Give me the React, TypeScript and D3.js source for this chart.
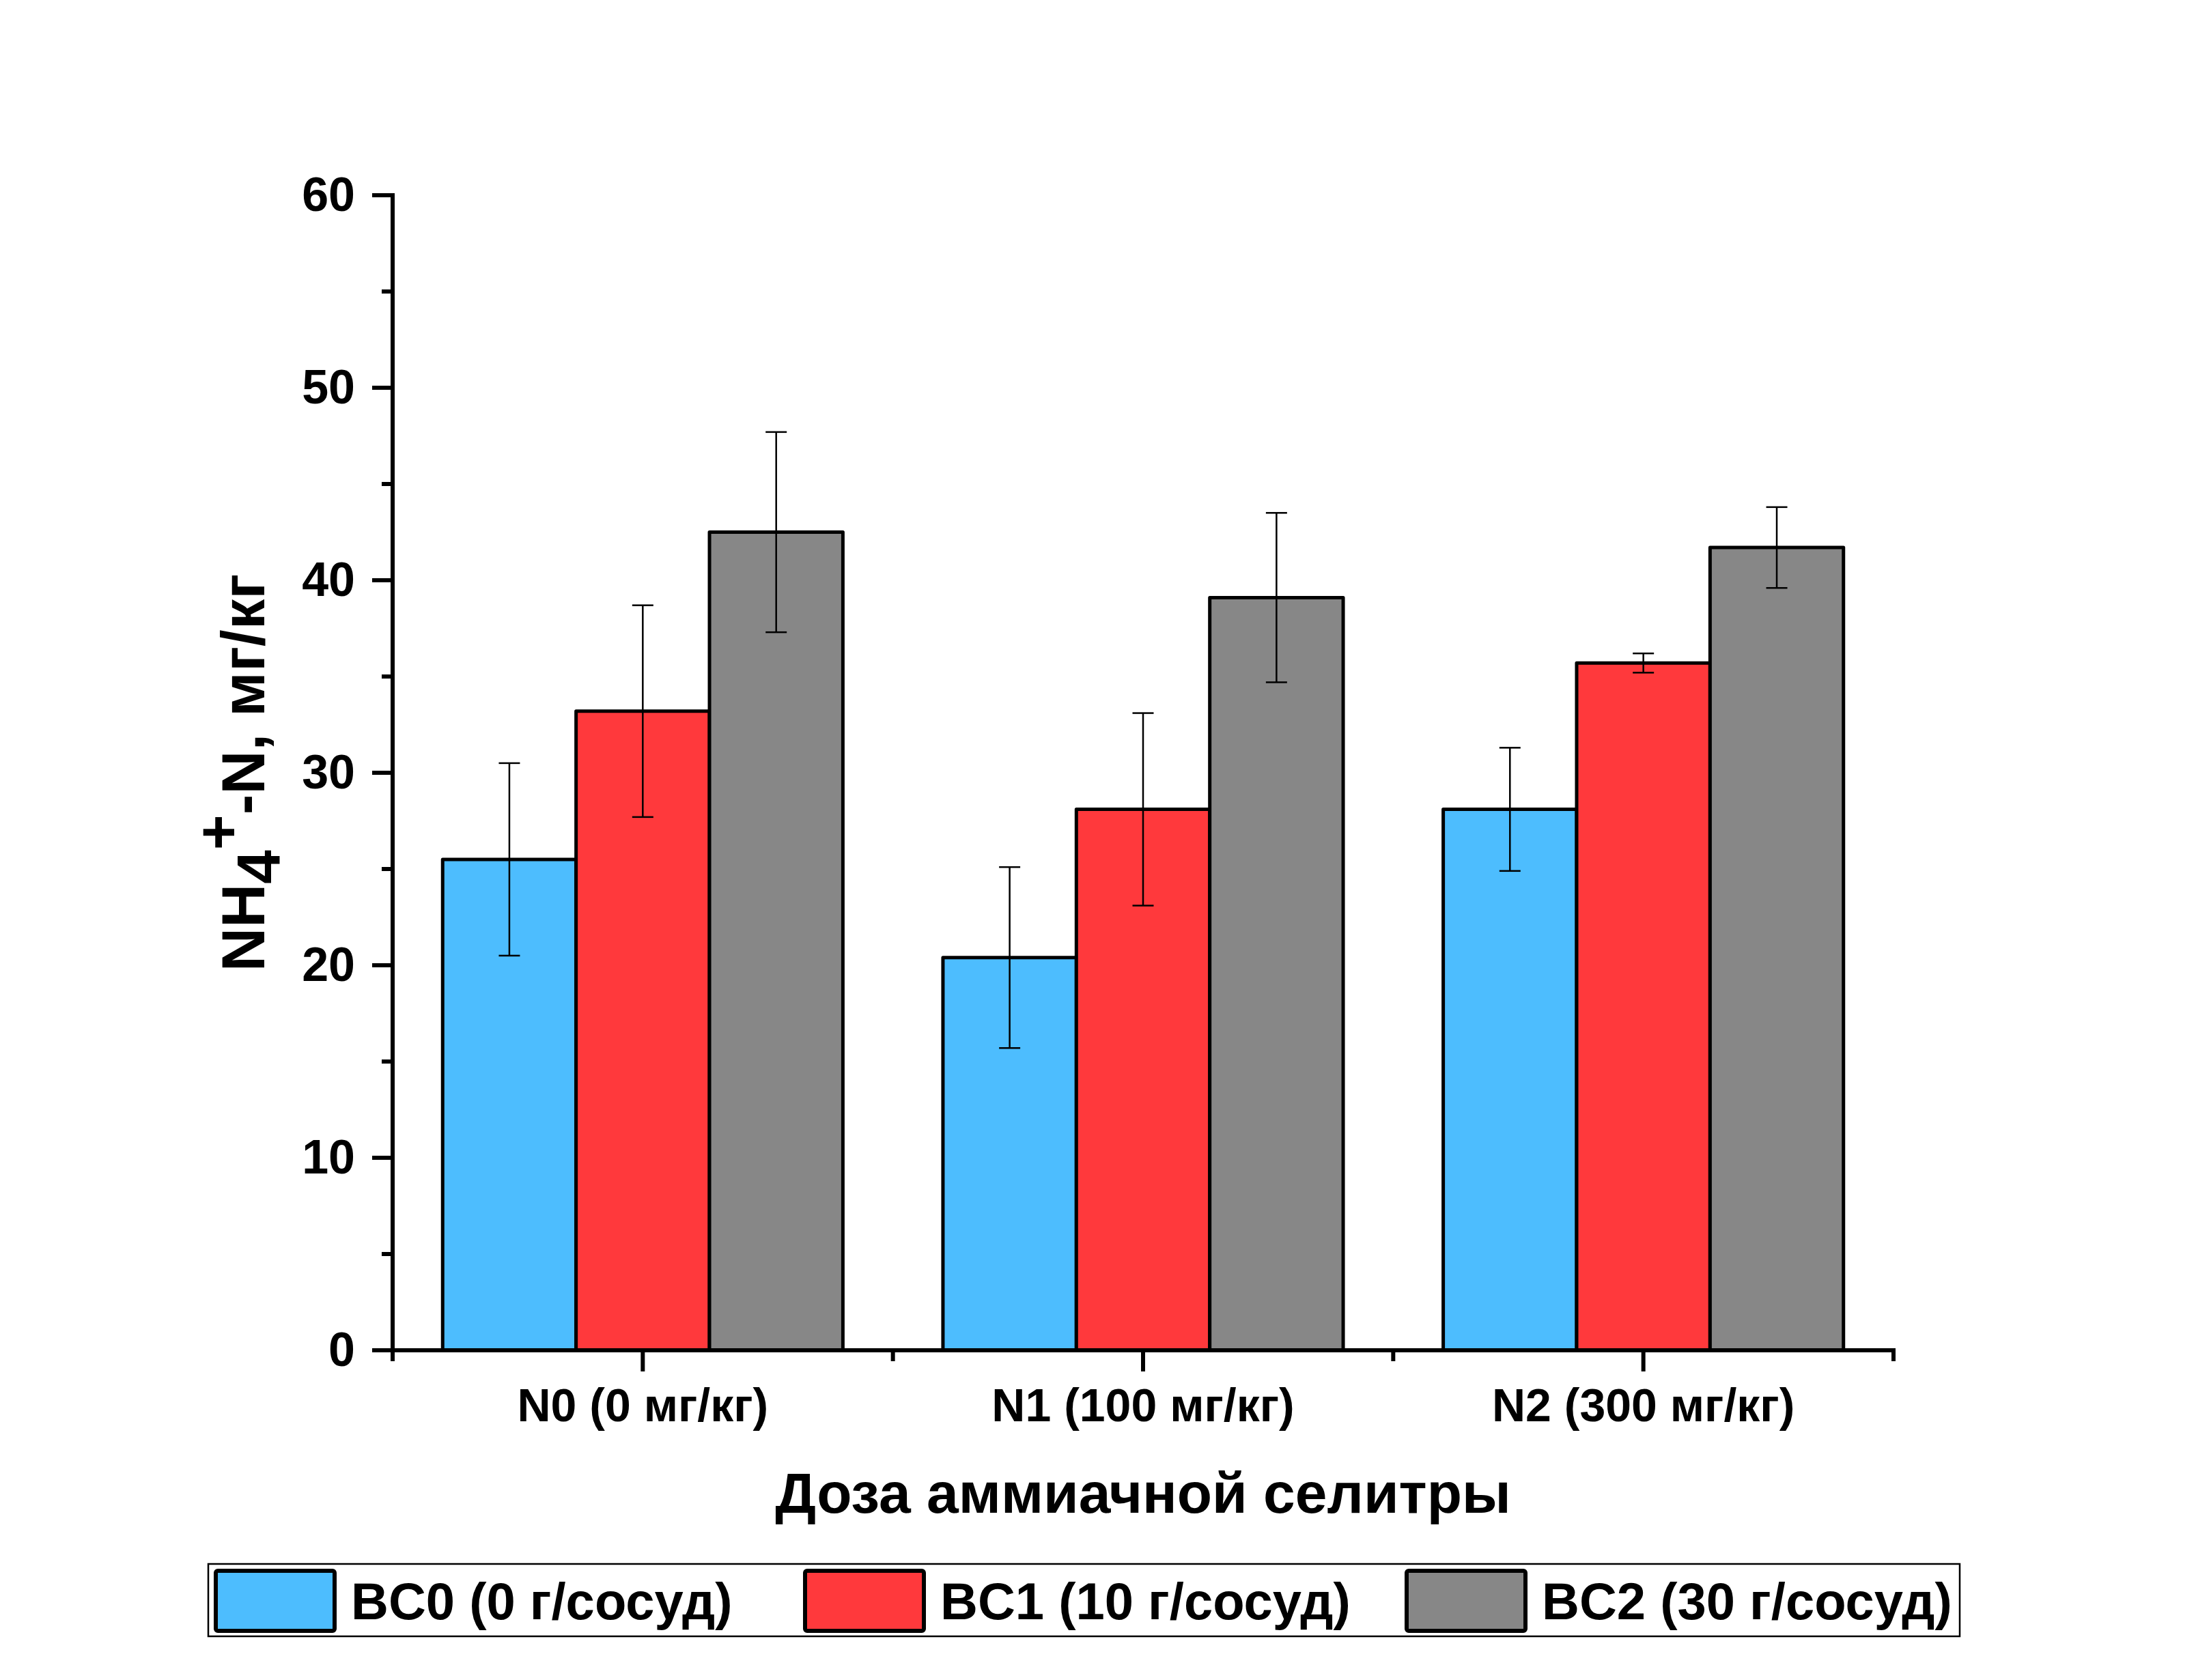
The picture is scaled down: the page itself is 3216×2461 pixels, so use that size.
import React from 'react';
import * as d3 from 'd3';

const categories = ['N0 (0 мг/кг)', 'N1 (100 мг/кг)', 'N2 (300 мг/кг)'];
const seriesNames = ['BC0 (0 г/сосуд)', 'BC1 (10 г/сосуд)', 'BC2 (30 г/сосуд)'];
const seriesColors = ['#4DBDFE', '#FF393C', '#878787'];

const bc0 = [25.5, 20.4, 28.1];
const bc0Err = [5.0, 4.7, 3.2];
const bc1 = [33.2, 28.1, 35.7];
const bc1Err = [5.5, 5.0, 0.5];
const bc2 = [42.5, 39.1, 41.7];
const bc2Err = [5.2, 4.4, 2.1];

const yTicks = [0, 10, 20, 30, 40, 50, 60];

const xTitle = 'Доза аммиачной селитры';

const W = 3216;
const H = 2461;
const plot = { left: 575, right: 2773, top: 286, bottom: 1978 };
const font = '"Liberation Sans", Arial, sans-serif';

// legend layout (item left edges)
const legendItemX = [316, 1179, 2060];

const App: React.FC = () => {
  const series = [
    { name: seriesNames[0], color: seriesColors[0], values: bc0, err: bc0Err },
    { name: seriesNames[1], color: seriesColors[1], values: bc1, err: bc1Err },
    { name: seriesNames[2], color: seriesColors[2], values: bc2, err: bc2Err },
  ];

  const x = d3.scaleBand<string>()
    .domain(categories)
    .range([plot.left, plot.right])
    .padding(0);

  const bw = x.bandwidth();
  const inner = d3.scaleBand<number>()
    .domain(series.map((_, i) => i))
    .range([bw * 0.1, bw * 0.9])
    .padding(0);

  const y = d3.scaleLinear()
    .domain([0, 60])
    .range([plot.bottom, plot.top]);

  const minorY = d3.range(5, 60, 10);
  const groupEdges = d3.range(categories.length + 1).map(i => plot.left + i * bw);
  const capW = 31;

  return (
    <svg width={W} height={H} viewBox={`0 0 ${W} ${H}`}
      style={{ position: 'absolute', left: 0, top: 0, display: 'block', background: '#fff' }}
      fontFamily={font} fontWeight="bold">

      {/* bars */}
      {series.map((s, si) => (
        <g key={s.name}>
          {categories.map((c, ci) => (
            <rect key={c}
              x={(x(c) as number) + (inner(si) as number)}
              y={y(s.values[ci])}
              width={inner.bandwidth()}
              height={y(0) - y(s.values[ci])}
              fill={s.color} stroke="#000" strokeWidth={5} strokeLinejoin="round" />
          ))}
        </g>
      ))}

      {/* error bars */}
      {series.map((s, si) => (
        <g key={s.name + '-err'} stroke="#000" strokeWidth={2.5}>
          {categories.map((c, ci) => {
            const cx = (x(c) as number) + (inner(si) as number) + inner.bandwidth() / 2;
            const hi = y(s.values[ci] + s.err[ci]);
            const lo = y(s.values[ci] - s.err[ci]);
            return (
              <g key={c}>
                <line x1={cx} x2={cx} y1={hi} y2={lo} />
                <line x1={cx - capW / 2} x2={cx + capW / 2} y1={hi} y2={hi} />
                <line x1={cx - capW / 2} x2={cx + capW / 2} y1={lo} y2={lo} />
              </g>
            );
          })}
        </g>
      ))}

      {/* y axis */}
      <g stroke="#000" strokeWidth={6}>
        <line x1={plot.left} x2={plot.left} y1={plot.top - 3} y2={plot.bottom + 3} />
        {yTicks.map(t => (
          <line key={t} x1={plot.left - 30} x2={plot.left} y1={y(t)} y2={y(t)} />
        ))}
        {minorY.map(t => (
          <line key={t} x1={plot.left - 16} x2={plot.left} y1={y(t)} y2={y(t)} />
        ))}
      </g>
      {yTicks.map(t => (
        <text key={t} x={plot.left - 55} y={y(t)} dy="0.33em" textAnchor="end" fontSize={70}>{t}</text>
      ))}

      {/* x axis */}
      <g stroke="#000" strokeWidth={6}>
        <line x1={plot.left - 3} x2={plot.right + 3} y1={plot.bottom} y2={plot.bottom} />
        {categories.map(c => {
          const cx = (x(c) as number) + bw / 2;
          return <line key={c} x1={cx} x2={cx} y1={plot.bottom} y2={plot.bottom + 31} />;
        })}
        {groupEdges.map((e, i) => (
          <line key={i} x1={e} x2={e} y1={plot.bottom} y2={plot.bottom + 16} />
        ))}
      </g>
      {categories.map(c => (
        <text key={c} x={(x(c) as number) + bw / 2} y={2082} textAnchor="middle" fontSize={68}>{c}</text>
      ))}

      {/* axis titles */}
      <text x={(plot.left + plot.right) / 2} y={2216} textAnchor="middle" fontSize={84}>{xTitle}</text>
      <text transform={`translate(387, ${(plot.top + plot.bottom) / 2}) rotate(-90)`} textAnchor="middle" fontSize={89}>
        <tspan>NH</tspan>
        <tspan dy={23}>4</tspan>
        <tspan dy={-60}>+</tspan>
        <tspan dy={37}>-N, мг/кг</tspan>
      </text>

      {/* legend */}
      <rect x={305} y={2291} width={2565} height={106} fill="#fff" stroke="#000" strokeWidth={2.5} />
      {series.map((s, i) => (
        <g key={s.name + '-leg'}>
          <rect x={legendItemX[i]} y={2301} width={174} height={88} rx={3}
            fill={s.color} stroke="#000" strokeWidth={6} strokeLinejoin="round" />
          <text x={legendItemX[i] + 198} y={2372} fontSize={76}>{s.name}</text>
        </g>
      ))}
    </svg>
  );
};

export default App;
